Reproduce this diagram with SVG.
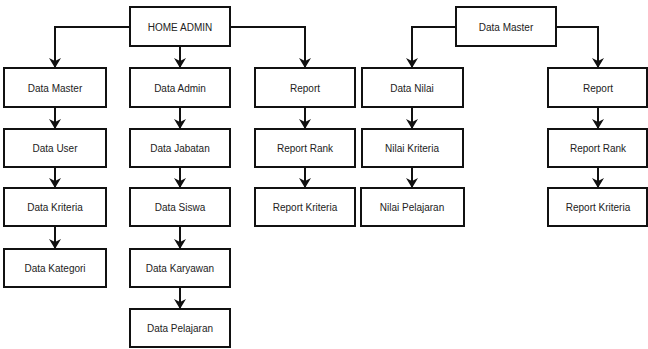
<svg xmlns="http://www.w3.org/2000/svg" width="648" height="349" viewBox="0 0 648 349">
<style>
.box{fill:#fff;stroke:#111;stroke-width:2}
.lbl{font-family:"Liberation Sans",Arial,sans-serif;font-size:10px;fill:#222;text-anchor:middle;dominant-baseline:central}
.con{fill:none;stroke:#111;stroke-width:2;marker-end:url(#ah)}
</style>
<defs>
<marker id="ah" markerUnits="userSpaceOnUse" markerWidth="10" markerHeight="12" viewBox="0 0 10 12" refX="10" refY="6" orient="auto">
<path d="M0,0 L10,6 L0,12 L3,6 z" fill="#111"/>
</marker>
</defs>
<rect width="648" height="349" fill="#fff"/>
<g id="connectors">
<path class="con" d="M130,27 H55 V68"/>
<path class="con" d="M180,46 V68"/>
<path class="con" d="M230,27 H305 V68"/>
<path class="con" d="M55,107 V129"/>
<path class="con" d="M55,167 V188"/>
<path class="con" d="M55,226 V249"/>
<path class="con" d="M180,107 V129"/>
<path class="con" d="M180,167 V188"/>
<path class="con" d="M180,226 V249"/>
<path class="con" d="M180,287 V309"/>
<path class="con" d="M305,107 V129"/>
<path class="con" d="M305,167 V188"/>
<path class="con" d="M456,27 H412 V68"/>
<path class="con" d="M556,27 H598 V68"/>
<path class="con" d="M412,107 V129"/>
<path class="con" d="M412,167 V188"/>
<path class="con" d="M598,107 V129"/>
<path class="con" d="M598,167 V188"/>
</g>
<g id="home-admin"><rect class="box" x="130" y="7" width="100" height="39"/><text class="lbl" x="180" y="27">HOME ADMIN</text></g>
<g id="data-master-top"><rect class="box" x="456" y="7" width="100" height="39"/><text class="lbl" x="506" y="27">Data Master</text></g>

<g id="data-master"><rect class="box" x="4" y="68" width="102" height="39"/><text class="lbl" x="55" y="88">Data Master</text></g>
<g id="data-user"><rect class="box" x="4" y="129" width="102" height="38"/><text class="lbl" x="55" y="148">Data User</text></g>
<g id="data-kriteria"><rect class="box" x="4" y="188" width="102" height="38"/><text class="lbl" x="55" y="207">Data Kriteria</text></g>
<g id="data-kategori"><rect class="box" x="4" y="249" width="102" height="38"/><text class="lbl" x="55" y="268">Data Kategori</text></g>

<g id="data-admin"><rect class="box" x="130" y="68" width="100" height="39"/><text class="lbl" x="180" y="88">Data Admin</text></g>
<g id="data-jabatan"><rect class="box" x="130" y="129" width="100" height="38"/><text class="lbl" x="180" y="148">Data Jabatan</text></g>
<g id="data-siswa"><rect class="box" x="130" y="188" width="100" height="38"/><text class="lbl" x="180" y="207">Data Siswa</text></g>
<g id="data-karyawan"><rect class="box" x="130" y="249" width="100" height="38"/><text class="lbl" x="180" y="268">Data Karyawan</text></g>
<g id="data-pelajaran"><rect class="box" x="130" y="309" width="100" height="38"/><text class="lbl" x="180" y="328">Data Pelajaran</text></g>

<g id="report-1"><rect class="box" x="255" y="68" width="100" height="39"/><text class="lbl" x="305" y="88">Report</text></g>
<g id="report-rank-1"><rect class="box" x="255" y="129" width="100" height="38"/><text class="lbl" x="305" y="148">Report Rank</text></g>
<g id="report-kriteria-1"><rect class="box" x="255" y="188" width="100" height="38"/><text class="lbl" x="305" y="207">Report Kriteria</text></g>

<g id="data-nilai"><rect class="box" x="362" y="68" width="101" height="39"/><text class="lbl" x="412" y="88">Data Nilai</text></g>
<g id="nilai-kriteria"><rect class="box" x="362" y="129" width="101" height="38"/><text class="lbl" x="412" y="148">Nilai Kriteria</text></g>
<g id="nilai-pelajaran"><rect class="box" x="361" y="188" width="103" height="38"/><text class="lbl" x="412" y="207">Nilai Pelajaran</text></g>

<g id="report-2"><rect class="box" x="548" y="68" width="99" height="39"/><text class="lbl" x="598" y="88">Report</text></g>
<g id="report-rank-2"><rect class="box" x="548" y="129" width="99" height="38"/><text class="lbl" x="598" y="148">Report Rank</text></g>
<g id="report-kriteria-2"><rect class="box" x="548" y="188" width="99" height="38"/><text class="lbl" x="598" y="207">Report Kriteria</text></g>
</svg>
